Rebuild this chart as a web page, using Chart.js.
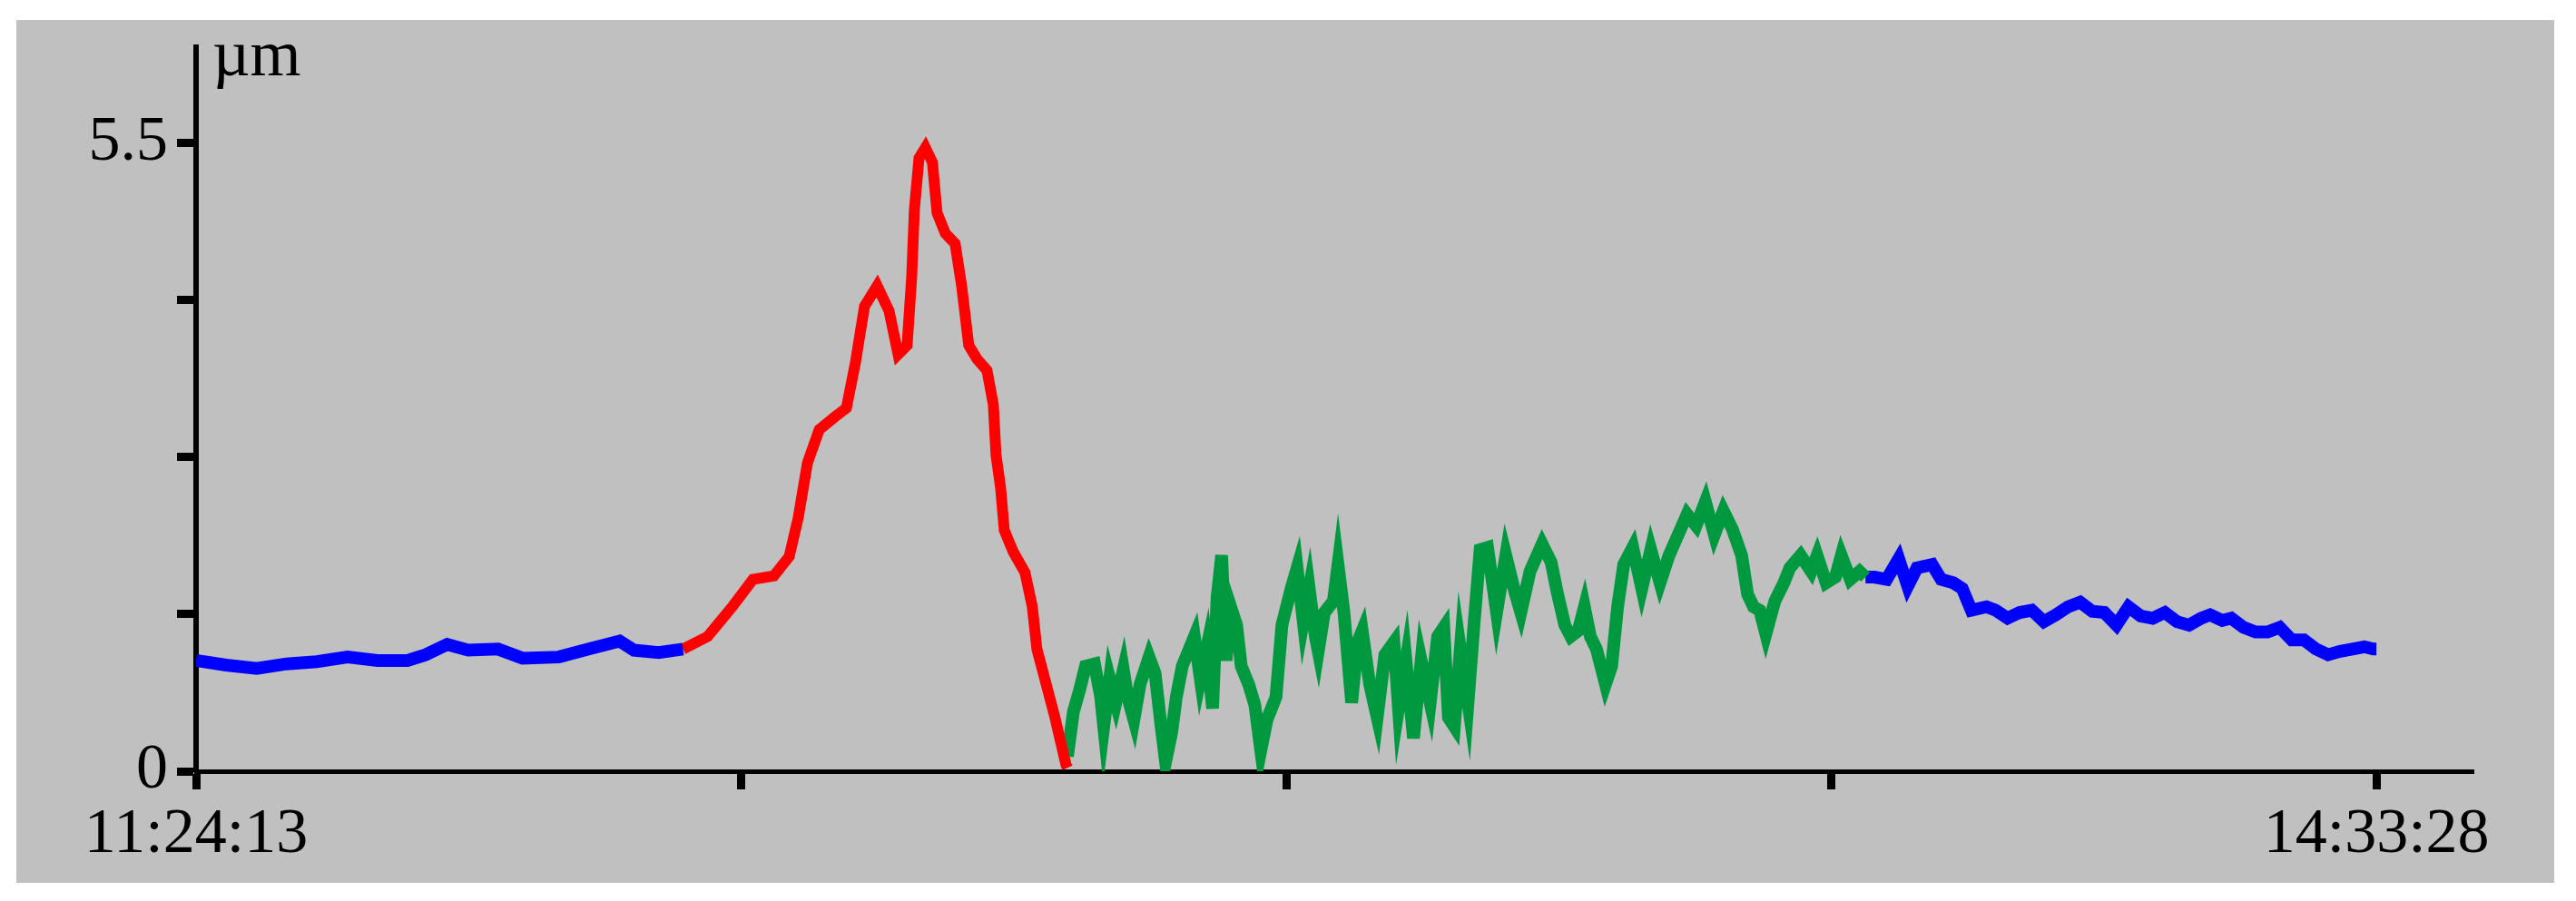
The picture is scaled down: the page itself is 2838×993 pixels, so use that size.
<!DOCTYPE html>
<html>
<head>
<meta charset="utf-8">
<script src="https://cdn.jsdelivr.net/npm/chart.js@4/dist/chart.umd.min.js"></script>
<style>
  html, body { margin: 0; padding: 0; background: #ffffff; }
  #wrap { position: relative; width: 2838px; height: 993px; }
  canvas { display: block; }
</style>
</head>
<body>
<div id="wrap"><canvas id="c" width="2838" height="993"></canvas></div>
<script>
// ---- data (time in seconds after 11:24:13, displacement in µm) ----
const startTime = '11:24:13';
const endTime = '14:33:28';
const unitLabel = 'µm';

const baseline1Time = [0, 156, 316, 472, 628, 789, 945, 1101, 1195, 1308, 1417, 1573, 1700, 1889, 2045, 2206, 2281, 2409, 2536];
const baseline1Um   = [0.97, 0.93, 0.90, 0.94, 0.96, 1.00, 0.97, 0.97, 1.02, 1.11, 1.06, 1.07, 0.99, 1.00, 1.07, 1.14, 1.06, 1.04, 1.07];

const peakTime = [2536, 2664, 2792, 2900, 3009, 3089, 3136, 3184, 3245, 3325, 3387, 3434, 3481, 3547, 3609, 3656, 3703, 3727, 3741, 3765, 3798, 3835, 3859, 3902, 3953, 3987, 4024, 4067, 4119, 4152, 4166, 4190, 4209, 4256, 4317, 4355, 4379, 4426, 4473, 4530, 4538];
const peakUm   = [1.07, 1.18, 1.44, 1.68, 1.71, 1.88, 2.22, 2.70, 2.99, 3.10, 3.18, 3.58, 4.07, 4.25, 4.03, 3.65, 3.73, 4.33, 4.92, 5.37, 5.46, 5.33, 4.89, 4.71, 4.62, 4.25, 3.73, 3.61, 3.51, 3.21, 2.77, 2.48, 2.11, 1.92, 1.74, 1.44, 1.07, 0.77, 0.47, 0.06, 0.03];

const recoveryTime = [4538, 4569, 4601, 4632, 4679, 4711, 4727, 4758, 4790, 4829, 4852, 4884, 4916, 4963, 4994, 5026, 5049, 5081, 5105, 5136, 5199, 5230, 5262, 5294, 5317, 5341, 5364, 5388, 5419, 5443, 5482, 5514, 5545, 5577, 5624, 5655, 5703, 5734, 5766, 5797, 5829, 5844, 5876, 5923, 5947, 5978, 6018, 6049, 6073, 6112, 6151, 6191, 6238, 6262, 6301, 6340, 6380, 6427, 6466, 6498, 6522, 6553, 6584, 6624, 6655, 6687, 6726, 6773, 6821, 6868, 6899, 6947, 7010, 7057, 7088, 7128, 7159, 7198, 7230, 7261, 7293, 7340, 7372, 7403, 7435, 7482, 7529, 7576, 7624, 7671, 7718, 7765, 7812, 7860, 7907, 7954, 8001, 8049, 8080, 8111, 8143, 8175, 8222, 8269, 8300, 8356, 8411, 8442, 8489, 8537, 8568, 8615, 8663, 8694];
const recoveryUm   = [0.13, 0.52, 0.71, 0.92, 0.94, 0.65, 0.39, 0.81, 0.60, 0.89, 0.65, 0.45, 0.76, 1.00, 0.86, 0.39, 0.08, 0.34, 0.65, 0.92, 1.18, 0.81, 1.07, 0.55, 1.52, 1.89, 0.97, 1.44, 1.28, 0.92, 0.76, 0.58, 0.18, 0.45, 0.65, 1.28, 1.60, 1.78, 1.31, 1.60, 1.18, 1.05, 1.39, 1.49, 1.81, 1.39, 0.60, 1.13, 1.23, 0.76, 0.47, 1.02, 1.13, 0.55, 0.97, 0.29, 0.97, 0.60, 1.18, 1.26, 0.47, 0.39, 1.07, 0.60, 1.28, 1.94, 1.96, 1.39, 1.89, 1.57, 1.39, 1.75, 1.99, 1.83, 1.57, 1.28, 1.18, 1.23, 1.44, 1.18, 1.07, 0.76, 0.92, 1.44, 1.81, 1.96, 1.60, 1.94, 1.65, 1.89, 2.07, 2.25, 2.15, 2.36, 2.07, 2.28, 2.12, 1.89, 1.55, 1.44, 1.41, 1.20, 1.49, 1.65, 1.78, 1.89, 1.75, 1.89, 1.65, 1.70, 1.89, 1.68, 1.75, 1.70];

const baseline2Time = [8694, 8741, 8804, 8867, 8914, 8962, 9041, 9088, 9151, 9198, 9245, 9324, 9371, 9434, 9497, 9560, 9623, 9686, 9749, 9812, 9875, 9938, 10001, 10064, 10127, 10190, 10253, 10316, 10379, 10442, 10489, 10552, 10599, 10662, 10725, 10788, 10851, 10914, 10977, 11040, 11103, 11166, 11229, 11292, 11339, 11355];
const baseline2Um   = [1.70, 1.70, 1.68, 1.86, 1.62, 1.78, 1.81, 1.68, 1.65, 1.60, 1.41, 1.44, 1.41, 1.34, 1.39, 1.41, 1.31, 1.37, 1.44, 1.48, 1.40, 1.39, 1.28, 1.44, 1.36, 1.34, 1.39, 1.31, 1.28, 1.34, 1.37, 1.32, 1.34, 1.26, 1.22, 1.22, 1.26, 1.15, 1.15, 1.07, 1.02, 1.05, 1.07, 1.09, 1.07, 1.07];

const xTickValues = [0, 2838.75, 5677.5, 8516.25, 11355];
const xTickLabels = [startTime, '', '', '', endTime];
const yTickValues = [0, 1.375, 2.75, 4.125, 5.5];
const yTickLabels = ['0', '', '', '', '5.5'];
const xMax = 11860;
const yMax = 6.34;

function toPoints(ts, vs) { return ts.map((t, i) => ({ x: t, y: vs[i] })); }

const FONT = { family: '"Liberation Serif", "Times New Roman", serif', size: 70 };

const bgPlugin = {
  id: 'bg',
  beforeDraw(chart) {
    const ctx = chart.ctx;
    ctx.save();
    ctx.fillStyle = '#ffffff';
    ctx.fillRect(0, 0, chart.width, chart.height);
    ctx.fillStyle = '#c0c0c0';
    ctx.fillRect(18, 22, 2796, 951);
    ctx.restore();
  }
};

const unitPlugin = {
  id: 'unit',
  afterDraw(chart) {
    const ctx = chart.ctx;
    const a = chart.chartArea;
    ctx.save();
    ctx.fillStyle = '#000';
    ctx.font = '72px "Liberation Serif", "Times New Roman", serif';
    ctx.textAlign = 'left';
    ctx.textBaseline = 'alphabetic';
    ctx.fillText(unitLabel, a.left + 18, a.top + 31);
    ctx.restore();
  }
};

function lineStyle(width) {
  return { borderWidth: width, pointRadius: 0, tension: 0, fill: false, borderJoinStyle: 'miter', borderCapStyle: 'butt' };
}

new Chart(document.getElementById('c'), {
  type: 'line',
  data: {
    datasets: [
      Object.assign({ label: 'baseline1', data: toPoints(baseline1Time, baseline1Um), borderColor: '#0000ff' }, lineStyle(14)),
      Object.assign({ label: 'peak', data: toPoints(peakTime, peakUm), borderColor: '#ff0000' }, lineStyle(12)),
      Object.assign({ label: 'recovery', data: toPoints(recoveryTime, recoveryUm), borderColor: '#009940' }, lineStyle(14)),
      Object.assign({ label: 'baseline2', data: toPoints(baseline2Time, baseline2Um), borderColor: '#0000ff' }, lineStyle(14))
    ]
  },
  options: {
    responsive: false,
    animation: false,
    devicePixelRatio: 1,
    layout: { padding: { left: 0, top: 43, right: 113, bottom: 0 } },
    plugins: { legend: { display: false }, tooltip: { enabled: false }, title: { display: false } },
    scales: {
      x: {
        type: 'linear',
        min: 0,
        max: xMax,
        afterBuildTicks(scale) { scale.ticks = xTickValues.map(v => ({ value: v })); },
        afterFit(scale) { scale.height = 143; },
        ticks: {
          autoSkip: false,
          maxRotation: 0,
          minRotation: 0,
          color: '#000',
          font: FONT,
          padding: 9,
          callback(value) {
            const i = xTickValues.indexOf(value);
            return i >= 0 ? xTickLabels[i] : '';
          }
        },
        grid: { drawOnChartArea: false, drawTicks: true, tickLength: 20, tickWidth: 9, tickColor: '#000' },
        border: { display: true, color: '#000', width: 5 }
      },
      y: {
        type: 'linear',
        min: 0,
        max: yMax,
        afterBuildTicks(scale) { scale.ticks = yTickValues.map(v => ({ value: v })); },
        afterFit(scale) { scale.width = 216; },
        ticks: {
          autoSkip: false,
          color: '#000',
          font: FONT,
          padding: 10,
          callback(value) {
            const i = yTickValues.indexOf(value);
            return i >= 0 ? yTickLabels[i] : '';
          }
        },
        grid: { drawOnChartArea: false, drawTicks: true, tickLength: 21, tickWidth: 9, tickColor: '#000' },
        border: { display: true, color: '#000', width: 6 }
      }
    }
  },
  plugins: [bgPlugin, unitPlugin]
});
</script>
</body>
</html>
